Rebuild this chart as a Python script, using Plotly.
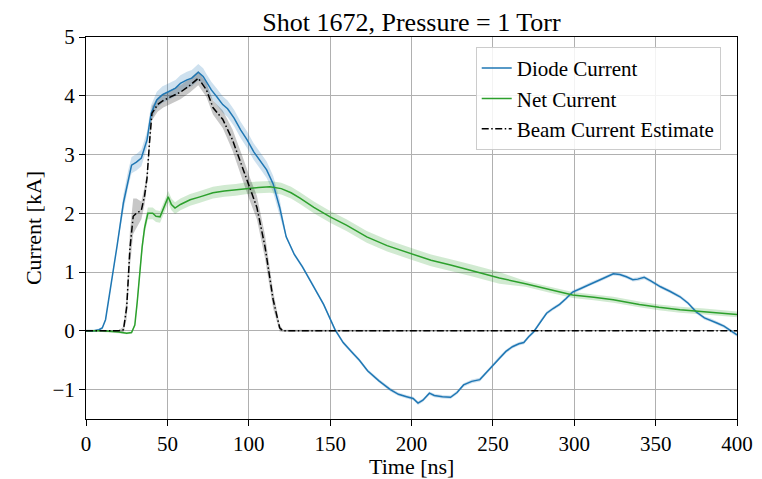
import plotly.graph_objects as go

# ---- data ----
diode_t = [0,5,8,10,12,15,19,23,26,28,
           31,34,37.5,40,43.5,47,50,55,58,62,
           65,69,72,74,77,80.5,84,87,91,95,
           99,103,107,111,115,119,123,128,133,139,
           146,153,158,163,168,173,180,187,192,197,
           201,204,207,211,214,219,224,228,232,237,
           242,248,254,258,262,266,269,272,275,279,
           283,287,291,295,299,304,310,316,320,324,
           328,332,336,339,343,347,353,359,365,370,
           375,380,384,388,392,396,400]
diode_i = [0,0.0,0.02,0.05,0.19,0.7,1.43,2.18,2.6,2.82,
           2.87,2.94,3.25,3.7,3.93,4.02,4.06,4.13,4.21,4.27,
           4.3,4.4,4.33,4.23,4.1,3.98,3.85,3.78,3.62,3.42,
           3.25,3.05,2.9,2.74,2.5,2.1,1.6,1.3,1.09,0.8,
           0.45,0.02,-0.2,-0.35,-0.5,-0.68,-0.85,-1.0,-1.08,-1.12,
           -1.15,-1.23,-1.18,-1.06,-1.1,-1.12,-1.13,-1.05,-0.92,-0.86,
           -0.83,-0.65,-0.46,-0.35,-0.27,-0.22,-0.2,-0.1,-0.02,0.15,
           0.3,0.38,0.45,0.55,0.66,0.72,0.8,0.87,0.92,0.97,
           0.96,0.92,0.87,0.88,0.91,0.85,0.75,0.67,0.58,0.47,
           0.32,0.22,0.18,0.13,0.08,0.0,-0.07]
diode_err = [0.02]*7 + [0.14]*29 + [0.03]*61

net_t = [0,10,20,25,28,30,31.5,33,34.5,36,
         38,41,43,45.5,48,50.5,52.5,54.7,58,64,
         70,78,85,92,99,106,113,120,126,131.5,
         140,150,160,172.5,185,199,212,224,238,254,
         270,285,299,312,324,340,352,365,380,400]
net_i = [0,0,-0.02,-0.04,-0.03,0.1,0.5,1.0,1.43,1.75,
         2.0,2.0,1.95,1.94,2.1,2.28,2.15,2.09,2.15,2.23,
         2.28,2.35,2.38,2.4,2.43,2.44,2.45,2.42,2.35,2.26,
         2.1,1.94,1.8,1.6,1.45,1.32,1.2,1.12,1.02,0.9,
         0.8,0.7,0.61,0.57,0.53,0.45,0.4,0.36,0.33,0.28]
net_err = [0.02]*6 + [0.1]*34 + [0.05]*10

beam_t = [0,20,23,25,27,29,31,34,36,37.5,
          39,40.5,44,47.5,52,58,64,69,71,74,
          78,84,90,96.5,100.8,105,110,115,119,121,
          400]
beam_i = [0,0,0.02,0.4,1.4,1.95,2.0,2.05,2.3,2.6,
          3.2,3.7,3.85,3.92,3.98,4.06,4.18,4.3,4.22,4.1,
          3.8,3.6,3.25,2.74,2.4,2.1,1.43,0.53,0.05,0,
          0]
beam_err = [0.01,0.01,0.05,0.2,0.3,0.3,0.25,0.15,0.15,0.12,
            0.12,0.12,0.12,0.12,0.12,0.12,0.12,0.12,0.12,0.12,
            0.12,0.15,0.18,0.2,0.2,0.2,0.2,0.15,0.06,0.02,
            0.0]

x_ticks = [0,50,100,150,200,250,300,350,400]
y_ticks = [-1,0,1,2,3,4,5]
y_labels = ["\u22121","0","1","2","3","4","5"]

FONT = "Liberation Serif"
BLUE = "#1f77b4"
GREEN = "#2ca02c"

fig = go.Figure()

def band(t, v, e, color):
    up = [a + b for a, b in zip(v, e)]
    lo = [a - b for a, b in zip(v, e)]
    fig.add_trace(go.Scatter(x=list(t) + list(t)[::-1], y=up + lo[::-1],
                             fill="toself", fillcolor=color, mode="none",
                             line=dict(width=0), showlegend=False, hoverinfo="skip"))

band(diode_t, diode_i, diode_err, "rgba(31,119,180,0.22)")
band(net_t, net_i, net_err, "rgba(44,160,44,0.22)")
band(beam_t, beam_i, beam_err, "rgba(0,0,0,0.22)")

fig.add_trace(go.Scatter(x=diode_t, y=diode_i, mode="lines", name="Diode Current",
                         line=dict(color=BLUE, width=1.5)))
fig.add_trace(go.Scatter(x=net_t, y=net_i, mode="lines", name="Net Current",
                         line=dict(color=GREEN, width=1.5)))
fig.add_trace(go.Scatter(x=beam_t, y=beam_i, mode="lines", name="Beam Current Estimate",
                         line=dict(color="black", width=1.5, dash="7px,2.5px,1.5px,2.5px")))

axis_common = dict(showgrid=True, gridcolor="#b0b0b0", gridwidth=1,
                   showline=True, linecolor="black", linewidth=1, mirror=True,
                   ticks="outside", ticklen=6, tickcolor="black", zeroline=False,
                   tickfont=dict(family=FONT, size=21, color="black"))

# page body adds an 8px offset; margins compensate for it
fig.update_layout(
    width=762, height=479,
    margin=dict(l=78, r=33, t=29, b=68, autoexpand=False),
    paper_bgcolor="white", plot_bgcolor="white",
    font=dict(family=FONT, color="black"),
    title=dict(text="Shot 1672, Pressure = 1 Torr", x=(78 + 729) / 2 / 762, xanchor="center",
               yref="container", y=0.971, yanchor="middle",
               font=dict(family=FONT, size=26, color="black")),
    xaxis=dict(range=[0, 400], tickvals=x_ticks, **axis_common),
    yaxis=dict(range=[-1.5, 5], tickvals=y_ticks, ticktext=y_labels,
               title=dict(text="Current [kA]", font=dict(family=FONT, size=22), standoff=4),
               **axis_common),
    legend=dict(x=0.975, y=0.974, xanchor="right", yanchor="top",
                bgcolor="rgba(255,255,255,0.85)", bordercolor="#cccccc", borderwidth=1,
                font=dict(family=FONT, size=21, color="black")),
)
fig.add_annotation(text="Time [ns]", xref="paper", yref="paper", x=0.5, y=-0.124,
                   xanchor="center", yanchor="middle", showarrow=False,
                   font=dict(family=FONT, size=22, color="black"))

fig.write_html("out.html")
